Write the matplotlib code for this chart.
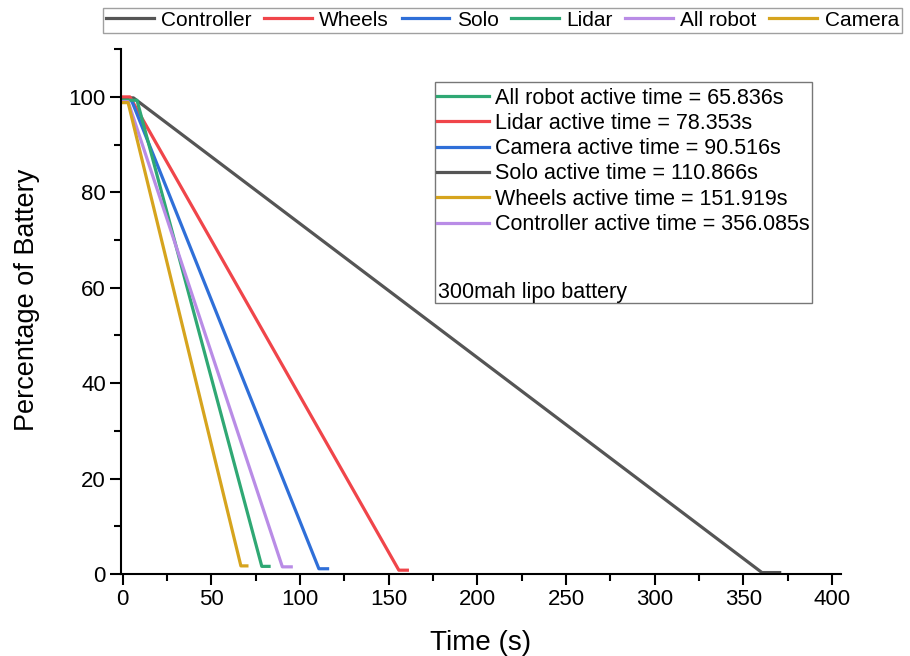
import matplotlib.pyplot as plt
from matplotlib.lines import Line2D
from matplotlib.patches import Rectangle
from matplotlib.ticker import MultipleLocator

plt.rcParams['font.family'] = ['Liberation Sans', 'DejaVu Sans']

# series: name, time (s), battery (%)
names = ['Controller', 'Wheels', 'Solo', 'Lidar', 'All robot', 'Camera']
colores = ['#555555', '#f0454a', '#2f6fd8', '#2fa874', '#b98ce6', '#d6a41e']

t_controller = [0, 6, 360.5, 370.5]
b_controller = [99.8, 99.8, 0.3, 0.3]
t_wheels = [0, 4, 155.7, 160.5]
b_wheels = [100, 100, 0.8, 0.8]
t_solo = [0, 5, 110.6, 115.5]
b_solo = [99.2, 99.2, 1.1, 1.1]
t_lidar = [0, 8, 78.4, 82.5]
b_lidar = [99.3, 99.3, 1.6, 1.6]
t_allrobot = [0, 3, 90.0, 95.0]
b_allrobot = [99.0, 99.0, 1.5, 1.5]
t_camera = [0, 3, 66.6, 70.0]
b_camera = [98.8, 98.8, 1.7, 1.7]

tiempos = [t_controller, t_wheels, t_solo, t_lidar, t_allrobot, t_camera]
baterias = [b_controller, b_wheels, b_solo, b_lidar, b_allrobot, b_camera]

# inner box labels (colours as in the original figure)
info_labels = ['All robot active time = 65.836s',
               'Lidar active time = 78.353s',
               'Camera active time = 90.516s',
               'Solo active time = 110.866s',
               'Wheels active time = 151.919s',
               'Controller active time = 356.085s']
info_colores = ['#2fa874', '#f0454a', '#2f6fd8', '#555555', '#d6a41e', '#b98ce6']

fig = plt.figure(figsize=(9.1, 6.56), dpi=100)
ax = fig.add_axes([0.133, 0.125, 0.791, 0.80])

lineas = []
for n, c, t, b in zip(names, colores, tiempos, baterias):
    l, = ax.plot(t, b, color=c, linewidth=2.3, label=n)
    lineas.append(l)

ax.set_xlim(-1, 405)
ax.set_ylim(0, 110)
ax.xaxis.set_major_locator(MultipleLocator(50))
ax.xaxis.set_minor_locator(MultipleLocator(25))
ax.yaxis.set_major_locator(MultipleLocator(20))
ax.yaxis.set_minor_locator(MultipleLocator(10))
ax.set_xticks(range(0, 401, 50))
ax.tick_params(which='major', direction='out', length=8, width=1.5, labelsize=16, pad=3)
ax.tick_params(which='minor', direction='out', length=5, width=1.5)
for s in ['top', 'right']:
    ax.spines[s].set_visible(False)
for s in ['left', 'bottom']:
    ax.spines[s].set_linewidth(1.5)

ax.set_xlabel('Time (s)', fontsize=20, labelpad=14)
ax.set_ylabel('Percentage of Battery', fontsize=19.5)
ax.yaxis.set_label_coords(-0.113, 0.522)

# top legend
fig.legend(handles=lineas, loc='upper center', bbox_to_anchor=(0.552, 0.998),
           ncol=6, fontsize=15, frameon=True, fancybox=False, edgecolor='#888888',
           handlelength=2.3, handletextpad=0.35, columnspacing=0.6, borderpad=0.15,
           borderaxespad=0.3)

# inner box
ax.add_patch(Rectangle((0.436, 0.516), 0.524, 0.421, transform=ax.transAxes,
                       fill=False, edgecolor='#777777', linewidth=1.0))
handles = [Line2D([], [], color=c, linewidth=2.3) for c in info_colores]
ax.legend(handles, info_labels, loc='upper left', bbox_to_anchor=(0.439, 0.927),
          frameon=False, fontsize=15.5, handlelength=2.4, handletextpad=0.28,
          labelspacing=0.2, borderaxespad=0, borderpad=0)
ax.text(0.441, 0.537, '300mah lipo battery', transform=ax.transAxes,
        fontsize=15.5, va='center', ha='left')

plt.savefig('out.png', dpi=100)
